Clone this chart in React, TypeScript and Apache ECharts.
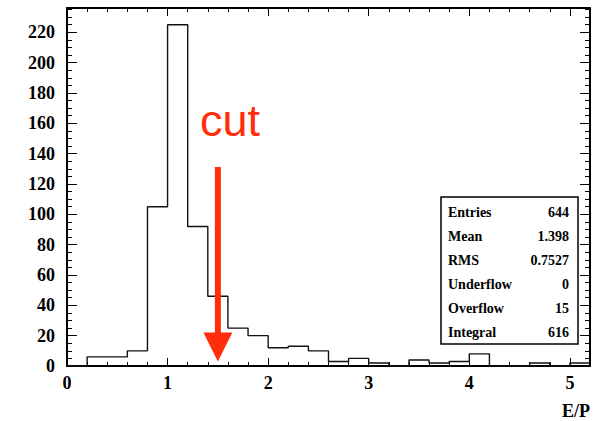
import React, { useEffect, useRef } from "react";
import * as echarts from "echarts";

// Histogram of E/P, bin width 0.2 starting at 0
const binWidth = 0.2;
const binStart = 0;
const counts = [
  0, 6, 6, 10, 105, 225, 92, 46, 25, 20, 12, 13, 10, 3, 5, 2, 0, 4, 2, 3, 8, 0, 0, 2, 0, 2,
];
const xTickLabels = ["0", "1", "2", "3", "4", "5"];
const statNames = ["Entries", "Mean", "RMS", "Underflow", "Overflow", "Integral"];
const statValues = ["644", "1.398", "0.7527", "0", "15", "616"];
const cutValue = 1.5;
const cutLabel = "cut";
const xTitle = "E/P";

const X_MIN = 0;
const X_MAX = 5.2;
const Y_MIN = 0;
const Y_MAX = 236;

const SERIF = "'Liberation Serif', 'Times New Roman', serif";
const RED = "#ff2d0a";

function stepPoints(): number[][] {
  const pts: number[][] = [];
  pts.push([binStart, 0]);
  counts.forEach((c, i) => {
    const lo = binStart + i * binWidth;
    const hi = lo + binWidth;
    pts.push([+lo.toFixed(4), c]);
    pts.push([+hi.toFixed(4), c]);
  });
  return pts;
}

export default function App() {
  const ref = useRef<HTMLDivElement>(null);

  useEffect(() => {
    if (!ref.current) return;
    const chart = echarts.init(ref.current, undefined, { renderer: "svg" });

    const labelStyle = {
      color: "#000",
      fontFamily: SERIF,
      fontWeight: "bold" as const,
      fontSize: 18,
    };

    const mkX = (grid: number, pos: "top" | "bottom", major: boolean, labels: boolean) => ({
      type: "value",
      gridIndex: grid,
      position: pos,
      min: X_MIN,
      max: X_MAX,
      interval: major ? 1 : 0.2,
      axisLine: { show: major, onZero: false, lineStyle: { color: "#000", width: 2 } },
      axisTick: {
        show: true,
        inside: true,
        length: major ? 8 : 4,
        lineStyle: { color: "#000", width: 1 },
      },
      splitLine: { show: false },
      axisLabel: labels
        ? {
            show: true,
            margin: 8,
            ...labelStyle,
            formatter: (v: number) => {
              const idx = Math.round(v);
              return Math.abs(v - idx) < 1e-6 && xTickLabels[idx] !== undefined
                ? xTickLabels[idx]
                : "";
            },
          }
        : { show: false },
    });

    const mkY = (grid: number, pos: "left" | "right", major: boolean, labels: boolean) => ({
      type: "value",
      gridIndex: grid,
      position: pos,
      min: Y_MIN,
      max: Y_MAX,
      interval: major ? 20 : 5,
      axisLine: { show: major, onZero: false, lineStyle: { color: "#000", width: 2 } },
      axisTick: {
        show: true,
        inside: true,
        length: major ? 10 : 5,
        lineStyle: { color: "#000", width: 1 },
      },
      splitLine: { show: false },
      axisLabel: labels
        ? {
            show: true,
            margin: 12,
            ...labelStyle,
            formatter: (v: number) => (v % 20 === 0 && v <= 220 ? String(v) : ""),
          }
        : { show: false },
    });

    const boxX = 441;
    const boxY = 197;
    const boxW = 137;
    const boxH = 147;
    const rowY0 = 212;
    const rowStep = 24;

    const statTexts: any[] = [];
    statNames.forEach((n, i) => {
      statTexts.push({
        type: "text",
        x: boxX + 7,
        y: rowY0 + i * rowStep,
        style: {
          text: n,
          fill: "#000",
          font: `bold 14px ${SERIF}`,
          textAlign: "left",
          textVerticalAlign: "middle",
        },
      });
      statTexts.push({
        type: "text",
        x: boxX + boxW - 9,
        y: rowY0 + i * rowStep,
        style: {
          text: statValues[i],
          fill: "#000",
          font: `bold 14px ${SERIF}`,
          textAlign: "right",
          textVerticalAlign: "middle",
        },
      });
    });

    const gridRect = { left: 67, right: 8, top: 8, bottom: 55, containLabel: false };

    chart.setOption({
      animation: false,
      backgroundColor: "#fff",
      grid: [gridRect, gridRect],
      xAxis: [
        mkX(0, "bottom", true, true),
        mkX(0, "top", true, false),
        mkX(1, "bottom", false, false),
        mkX(1, "top", false, false),
      ],
      yAxis: [
        mkY(0, "left", true, true),
        mkY(0, "right", true, false),
        mkY(1, "left", false, false),
        mkY(1, "right", false, false),
      ],
      series: [
        {
          type: "line",
          xAxisIndex: 0,
          yAxisIndex: 0,
          data: stepPoints(),
          symbol: "none",
          lineStyle: { color: "#111", width: 1.4 },
          z: 3,
        },
      ],
    });

    // Cut arrow placed via data coordinates
    const tip = chart.convertToPixel({ xAxisIndex: 0, yAxisIndex: 0 }, [cutValue, 3]) as number[];
    const ax = tip[0];
    const tipY = tip[1];
    const headTop = tipY - 29;
    const shaftTop = 167;

    chart.setOption({
      graphic: [
        {
          type: "rect",
          shape: { x: ax - 3, y: shaftTop, width: 6, height: headTop - shaftTop + 1 },
          style: { fill: RED },
          z: 10,
        },
        {
          type: "polygon",
          shape: {
            points: [
              [ax - 14.5, headTop],
              [ax + 14.5, headTop],
              [ax, tipY],
            ],
          },
          style: { fill: RED },
          z: 10,
        },
        {
          type: "text",
          x: 200,
          y: 143,
          style: {
            text: cutLabel,
            fill: RED,
            font: "45px 'Liberation Sans', Arial, sans-serif",
            textAlign: "left",
            textVerticalAlign: "bottom",
          },
          z: 10,
        },
        {
          type: "rect",
          shape: { x: boxX, y: boxY, width: boxW, height: boxH },
          style: { fill: "#fff", stroke: "#000", lineWidth: 1.5 },
          z: 10,
        },
        ...statTexts.map((t) => ({ ...t, z: 11 })),
        {
          type: "text",
          x: 590,
          y: 411,
          style: {
            text: xTitle,
            fill: "#000",
            font: `bold 18px ${SERIF}`,
            textAlign: "right",
            textVerticalAlign: "middle",
          },
          z: 10,
        },
      ],
    });

    return () => chart.dispose();
  }, []);

  return <div ref={ref} style={{ width: 598, height: 421, position: "absolute", left: 0, top: 0 }} />;
}
